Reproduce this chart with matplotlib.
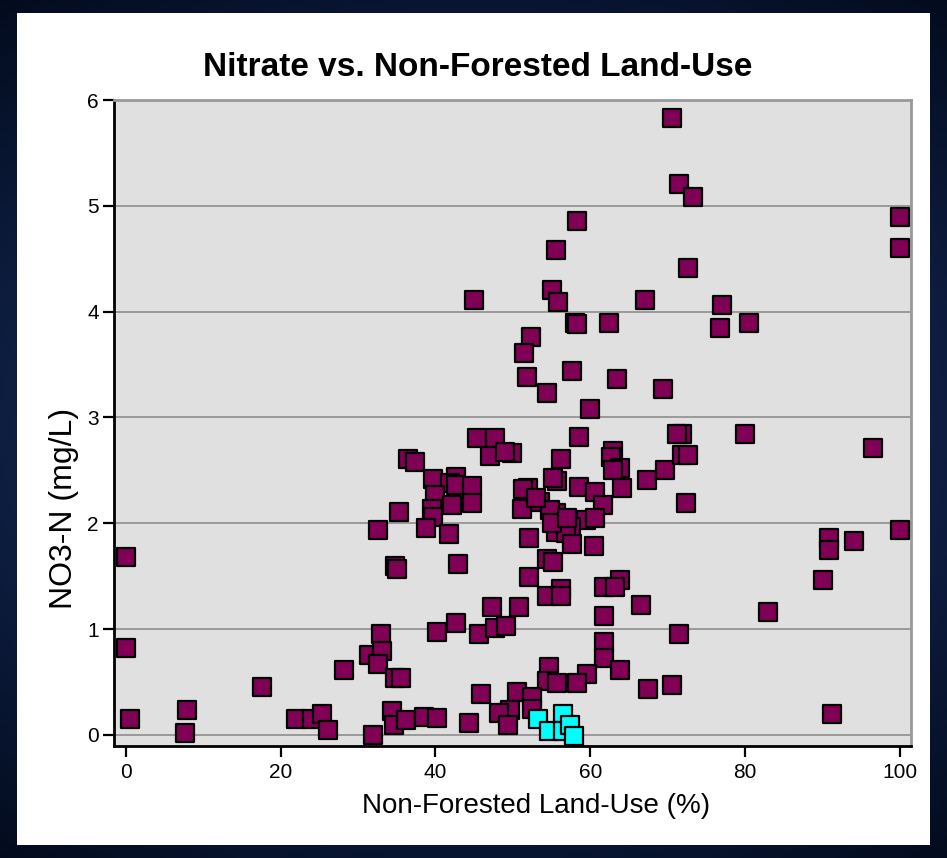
import matplotlib
matplotlib.use("Agg")
import matplotlib.pyplot as plt
import numpy as np
from matplotlib.patches import Rectangle

plt.rcParams['font.family'] = ['Liberation Sans', 'DejaVu Sans']

# Non-forested land use (%) and NO3-N (mg/L), purple series
x_purple = [
    70.5, 71.4, 73.3, 100, 100, 72.6, 67.0, 77.0, 76.7, 80.5, 69.4,
    58.3, 55.6, 45.0, 55.0, 55.8, 58.0, 58.3, 62.4, 52.3, 51.4, 51.8, 54.4, 57.6, 63.4, 60.0,
    0.0, 0.0, 0.6, 7.9, 7.7, 17.6, 22.0, 24.1, 25.3, 26.1, 28.2, 32.6, 33.0, 31.4, 33.1, 32.6,
    31.9, 34.8, 35.5, 34.4, 34.7, 36.2, 38.5, 40.2, 40.2,
    45.4, 47.7, 47.0, 36.5, 37.4, 39.7, 42.6, 41.9, 42.6, 44.7, 39.9, 42.1, 44.7, 39.6, 39.7,
    35.3, 38.8, 41.7, 34.8, 35.0, 42.9, 42.6, 45.6, 47.7, 49.1, 47.3, 50.8,
    49.9, 49.0, 58.5, 56.2, 62.9, 62.7, 63.8, 62.9, 67.3, 55.7, 55.2, 52.0, 51.3, 58.5, 60.6,
    64.1, 51.2, 53.5, 55.6, 54.8, 61.6, 59.4, 60.6, 55.6, 57.5, 56.9, 57.6, 60.5, 52.1, 54.4,
    55.2, 53.0, 55.0, 57.0,
    52.1, 56.2, 54.4, 56.2, 61.7, 63.8, 63.2, 66.6, 61.7, 61.7, 61.7, 54.7, 59.6, 63.8, 54.4,
    55.7, 58.3, 45.9, 50.5, 52.5, 52.5, 49.6, 48.2, 49.4, 44.3,
    69.7, 71.8, 71.2, 71.8, 72.6, 72.4, 80.0, 96.5, 100, 90.8, 90.8, 94.1, 90.0, 82.9, 71.4,
    70.5, 67.5, 91.2,
]
y_purple = [
    5.83, 5.21, 5.08, 4.89, 4.60, 4.41, 4.11, 4.06, 3.85, 3.89, 3.27,
    4.86, 4.58, 4.11, 4.20, 4.09, 3.89, 3.88, 3.89, 3.76, 3.61, 3.38, 3.23, 3.44, 3.36, 3.08,
    1.68, 0.82, 0.15, 0.24, 0.02, 0.45, 0.15, 0.15, 0.20, 0.05, 0.61, 1.94, 0.95, 0.76, 0.79, 0.67,
    0.00, 0.54, 0.54, 0.23, 0.09, 0.14, 0.17, 0.16, 0.97,
    2.81, 2.81, 2.64, 2.61, 2.58, 2.42, 2.44, 2.38, 2.36, 2.35, 2.27, 2.17, 2.19, 2.14, 2.06,
    2.11, 1.96, 1.90, 1.60, 1.57, 1.62, 1.06, 0.95, 1.01, 1.03, 1.21, 1.21,
    2.66, 2.67, 2.82, 2.61, 2.68, 2.63, 2.52, 2.50, 2.41, 2.40, 2.43, 2.33, 2.32, 2.34, 2.30,
    2.33, 2.14, 2.20, 2.10, 2.13, 2.17, 2.03, 2.05, 1.92, 1.97, 1.91, 1.80, 1.79, 1.86, 1.66,
    1.63, 2.24, 2.00, 2.05,
    1.49, 1.38, 1.31, 1.31, 1.40, 1.46, 1.40, 1.23, 1.12, 0.88, 0.73, 0.64, 0.58, 0.61, 0.51,
    0.49, 0.49, 0.39, 0.41, 0.36, 0.25, 0.24, 0.21, 0.09, 0.11,
    2.50, 2.84, 2.84, 2.65, 2.65, 2.19, 2.84, 2.71, 1.94, 1.86, 1.75, 1.83, 1.46, 1.16, 0.95,
    0.47, 0.43, 0.20,
]

# Cyan series
x_cyan = [53.3, 56.5, 54.7, 56.5, 57.4, 57.9]
y_cyan = [0.15, 0.20, 0.04, 0.04, 0.09, -0.01]

title = "Nitrate vs. Non-Forested Land-Use"
xlabel = "Non-Forested Land-Use (%)"
ylabel = "NO3-N (mg/L)"
xticks = [0, 20, 40, 60, 80, 100]
yticks = [0, 1, 2, 3, 4, 5, 6]

W, H = 947, 858
fig = plt.figure(figsize=(W / 100, H / 100), dpi=100)

# dark blue gradient background
bg = fig.add_axes([0, 0, 1, 1])
gx = np.linspace(-1, 1, 200)
gy = np.linspace(-1, 1, 200)
GX, GY = np.meshgrid(gx, gy)
r = np.clip(np.sqrt(GX**2 * 0.6 + GY**2), 0, 1.4)
c_in = np.array([0x1e, 0x3c, 0x78]) / 255
c_out = np.array([0x00, 0x06, 0x14]) / 255
t = (r / 1.4)[..., None]
img = c_in * (1 - t) + c_out * t
bg.imshow(img, extent=[0, 1, 0, 1], aspect='auto', origin='lower')
bg.set_xlim(0, 1)
bg.set_ylim(0, 1)
bg.axis('off')
bg.add_patch(Rectangle((17 / W, 1 - 845 / H), (930 - 17) / W, (845 - 13) / H,
                       facecolor='white', edgecolor='none', transform=bg.transAxes))

ax = fig.add_axes([114 / W, 1 - 746 / H, (911 - 114) / W, (746 - 100) / H])
ax.set_facecolor('#e0e0e0')
ax.set_xlim(-1.5, 101.4)
ax.set_ylim(-0.104, 6.0)

for yv in yticks:
    ax.axhline(yv, color='#9a9a9a', lw=1.4, zorder=1)

ax.scatter(x_purple, y_purple, marker='s', s=185, facecolor='#800055',
           edgecolor='black', linewidths=1.6, zorder=3)
ax.scatter(x_cyan, y_cyan, marker='s', s=185, facecolor='#00ffff',
           edgecolor='black', linewidths=1.6, zorder=4)

ax.set_xticks(xticks)
ax.set_yticks(yticks)
ax.tick_params(axis='both', direction='out', length=8, width=1.6, color='black',
               labelsize=15, labelcolor='black')
ax.tick_params(axis='x', pad=4)
ax.tick_params(axis='y', pad=3)

for s in ['left', 'bottom']:
    ax.spines[s].set_color('black')
    ax.spines[s].set_linewidth(2)
for s in ['top', 'right']:
    ax.spines[s].set_color('#999999')
    ax.spines[s].set_linewidth(2)

fig.text(536 / W, 1 - 806 / H, xlabel, fontsize=20, ha='center', va='center')
fig.text(64 / W, 1 - 508 / H, ylabel, fontsize=23, rotation=90,
         ha='center', va='center')
fig.text(478 / W, 1 - 67 / H, title, fontsize=24, fontweight='bold',
         ha='center', va='center')

fig.savefig('out.png', dpi=100, facecolor=fig.get_facecolor())
